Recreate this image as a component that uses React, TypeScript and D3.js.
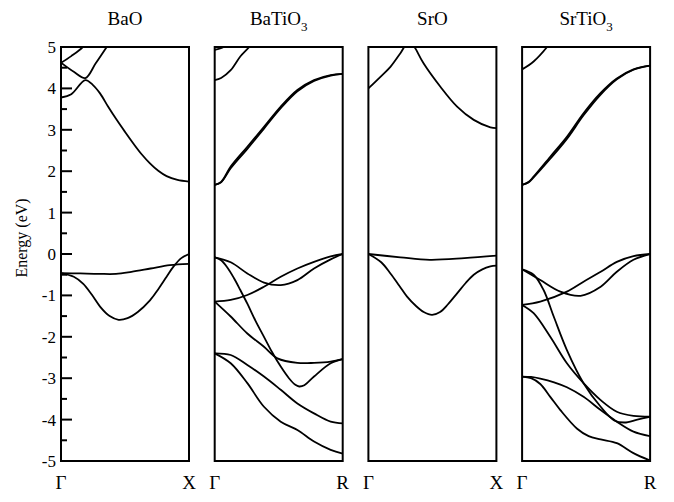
import React from 'react';
import * as d3 from 'd3';

type Pt = [number, number];

// band energies (eV) along the k-path, k normalised 0..1 within each panel
const baoBands: Pt[][] = [
  [[0, 3.78], [0.08, 3.86], [0.19, 4.2], [0.25, 4.08], [0.305, 3.88], [0.37, 3.55], [0.435, 3.24], [0.5, 2.95], [0.565, 2.67], [0.63, 2.41], [0.695, 2.19], [0.76, 2.01], [0.825, 1.88], [0.91, 1.79], [1, 1.75]],
  [[0, 4.62], [0.1, 4.4], [0.19, 4.25], [0.27, 4.6], [0.357, 5.0], [0.42, 5.3]],
  [[0, 4.62], [0.08, 4.78], [0.17, 5.0], [0.23, 5.25]],
  [[0, -0.46], [0.15, -0.47], [0.3, -0.48], [0.43, -0.48], [0.55, -0.43], [0.7, -0.35], [0.85, -0.27], [1, -0.24]],
  [[0, -0.46], [0.1, -0.55], [0.174, -0.72], [0.24, -0.98], [0.305, -1.27], [0.38, -1.5], [0.45, -1.59], [0.52, -1.55], [0.6, -1.4], [0.695, -1.12], [0.76, -0.85], [0.825, -0.55], [0.88, -0.3], [0.94, -0.1], [1, 0]],
];

const batio3Bands: Pt[][] = [
  [[0, 4.93], [0.07, 5.0], [0.12, 5.15]],
  [[0, 4.2], [0.05, 4.25], [0.125, 4.44], [0.2, 4.77], [0.27, 5.0], [0.32, 5.2]],
  [[0, 1.67], [0.05, 1.74], [0.125, 2.11], [0.255, 2.59], [0.385, 3.07], [0.516, 3.56], [0.646, 3.96], [0.776, 4.2], [0.906, 4.32], [1, 4.35]],
  [[0, 1.67], [0.05, 1.73], [0.125, 2.07], [0.255, 2.54], [0.385, 3.03], [0.516, 3.52], [0.646, 3.93], [0.776, 4.18], [0.906, 4.31], [1, 4.35]],
  [[0, -0.08], [0.125, -0.2], [0.255, -0.47], [0.385, -0.69], [0.516, -0.75], [0.646, -0.63], [0.776, -0.35], [0.906, -0.13], [1, 0]],
  [[0, -1.15], [0.125, -1.11], [0.255, -0.99], [0.385, -0.79], [0.516, -0.55], [0.646, -0.35], [0.776, -0.19], [0.906, -0.06], [1, 0]],
  [[0, -0.08], [0.05, -0.15], [0.1, -0.33], [0.15, -0.58], [0.2, -0.87], [0.255, -1.2], [0.32, -1.62], [0.385, -2.0], [0.45, -2.38], [0.516, -2.72], [0.58, -3.0], [0.63, -3.16], [0.66, -3.2], [0.7, -3.17], [0.776, -2.96], [0.906, -2.64], [1, -2.54]],
  [[0, -1.15], [0.125, -1.51], [0.255, -1.92], [0.385, -2.24], [0.49, -2.52], [0.646, -2.63], [0.776, -2.63], [0.906, -2.6], [1, -2.54]],
  [[0, -2.4], [0.125, -2.44], [0.255, -2.68], [0.385, -2.96], [0.516, -3.28], [0.646, -3.61], [0.776, -3.85], [0.906, -4.05], [1, -4.09]],
  [[0, -2.4], [0.125, -2.64], [0.255, -3.12], [0.385, -3.69], [0.516, -4.05], [0.646, -4.25], [0.776, -4.53], [0.906, -4.73], [1, -4.82]],
];

const sroBands: Pt[][] = [
  [[0, 4.0], [0.094, 4.28], [0.172, 4.52], [0.25, 4.85], [0.32, 5.15], [0.36, 5.0], [0.432, 4.6], [0.5625, 4.04], [0.693, 3.56], [0.823, 3.24], [0.953, 3.06], [1, 3.04]],
  [[0, 0], [0.25, -0.08], [0.48, -0.14], [0.75, -0.1], [1, -0.04]],
  [[0, 0], [0.1, -0.2], [0.172, -0.47], [0.24, -0.76], [0.302, -1.03], [0.37, -1.25], [0.432, -1.4], [0.497, -1.47], [0.56, -1.4], [0.62, -1.22], [0.693, -0.95], [0.76, -0.7], [0.823, -0.5], [0.89, -0.37], [0.953, -0.3], [1, -0.28]],
];

const srtio3Bands: Pt[][] = [
  [[0, 4.46], [0.09, 4.65], [0.195, 5.0], [0.24, 5.2]],
  [[0, 1.67], [0.05, 1.74], [0.09, 1.87], [0.22, 2.35], [0.35, 2.83], [0.48, 3.4], [0.61, 3.88], [0.74, 4.24], [0.87, 4.46], [1, 4.55]],
  [[0, 1.67], [0.05, 1.73], [0.09, 1.85], [0.22, 2.3], [0.35, 2.78], [0.48, 3.35], [0.61, 3.84], [0.74, 4.22], [0.87, 4.45], [1, 4.55]],
  [[0, -0.37], [0.142, -0.63], [0.299, -0.91], [0.457, -1.01], [0.614, -0.79], [0.74, -0.43], [0.87, -0.14], [1, 0]],
  [[0, -1.23], [0.142, -1.15], [0.35, -0.91], [0.48, -0.67], [0.614, -0.43], [0.74, -0.19], [0.87, -0.05], [1, 0]],
  [[0, -0.37], [0.09, -0.5], [0.168, -0.87], [0.247, -1.51], [0.35, -2.32], [0.48, -3.12], [0.614, -3.69], [0.72, -4.02], [0.8, -4.07], [0.9, -4.0], [1, -3.93]],
  [[0, -1.23], [0.09, -1.43], [0.22, -2.0], [0.35, -2.64], [0.48, -3.12], [0.614, -3.53], [0.74, -3.81], [0.87, -3.91], [1, -3.93]],
  [[0, -2.96], [0.07, -2.97], [0.142, -3.01], [0.25, -3.1], [0.35, -3.22], [0.48, -3.45], [0.614, -3.77], [0.74, -4.05], [0.87, -4.29], [1, -4.4]],
  [[0, -2.96], [0.07, -3.0], [0.142, -3.14], [0.22, -3.45], [0.299, -3.77], [0.43, -4.22], [0.52, -4.4], [0.614, -4.48], [0.74, -4.57], [0.87, -4.81], [1, -4.99]],
];

const panels = [
  { name: 'BaO', sub: '', end: 'X', bands: baoBands },
  { name: 'BaTiO', sub: '3', end: 'R', bands: batio3Bands },
  { name: 'SrO', sub: '', end: 'X', bands: sroBands },
  { name: 'SrTiO', sub: '3', end: 'R', bands: srtio3Bands },
];

const majorTicks = [-5, -4, -3, -2, -1, 0, 1, 2, 3, 4, 5];
const minorTicks = [-4.5, -3.5, -2.5, -1.5, -0.5, 0.5, 1.5, 2.5, 3.5, 4.5];

const App: React.FC = () => {
  const width = 674;
  const height = 502;
  const left0 = 61;
  const panelW = 128;
  const pitch = 153.7;
  const top = 47;
  const bottom = 461;
  const font = "'Liberation Serif', 'Times New Roman', serif";

  const yScale = d3.scaleLinear().domain([-5, 5]).range([bottom, top]);

  return (
    <svg width={width} height={height} style={{ position: 'absolute', left: 0, top: 0, background: '#fff' }}>
      <defs>
        {panels.map((p, i) => (
          <clipPath key={p.name} id={`clip${i}`}>
            <rect x={left0 + i * pitch} y={top} width={panelW} height={bottom - top} />
          </clipPath>
        ))}
      </defs>
      <text transform={`translate(27, 238) rotate(-90)`} textAnchor="middle" fontFamily={font} fontSize={16}>Energy (eV)</text>
      {majorTicks.map(v => (
        <g key={v}>
          <line x1={left0} x2={left0 + 11} y1={yScale(v)} y2={yScale(v)} stroke="#000" strokeWidth={2} />
          <text x={left0 - 5} y={yScale(v) + 6} textAnchor="end" fontFamily={font} fontSize={17}>{v}</text>
        </g>
      ))}
      {minorTicks.map(v => (
        <line key={v} x1={left0} x2={left0 + 6} y1={yScale(v)} y2={yScale(v)} stroke="#000" strokeWidth={2} />
      ))}
      {panels.map((p, i) => {
        const x0 = left0 + i * pitch;
        const xScale = d3.scaleLinear().domain([0, 1]).range([x0, x0 + panelW]);
        const line = d3.line<Pt>()
          .x(d => xScale(d[0]))
          .y(d => yScale(d[1]))
          .curve(d3.curveCatmullRom.alpha(0.5));
        return (
          <g key={p.name}>
            <text x={x0 + panelW / 2} y={25} textAnchor="middle" fontFamily={font} fontSize={19}>
              {p.name}
              {p.sub && <tspan dy={6} fontSize={13}>{p.sub}</tspan>}
            </text>
            <g clipPath={`url(#clip${i})`}>
              {p.bands.map((b, j) => (
                <path key={j} d={line(b) || ''} fill="none" stroke="#000" strokeWidth={1.8} />
              ))}
            </g>
            <rect x={x0} y={top} width={panelW} height={bottom - top} fill="none" stroke="#000" strokeWidth={2} />
            <text x={xScale(0)} y={489} textAnchor="middle" fontFamily={font} fontSize={19}>Γ</text>
            <text x={xScale(1)} y={489} textAnchor="middle" fontFamily={font} fontSize={19}>{p.end}</text>
          </g>
        );
      })}
    </svg>
  );
};

export default App;
